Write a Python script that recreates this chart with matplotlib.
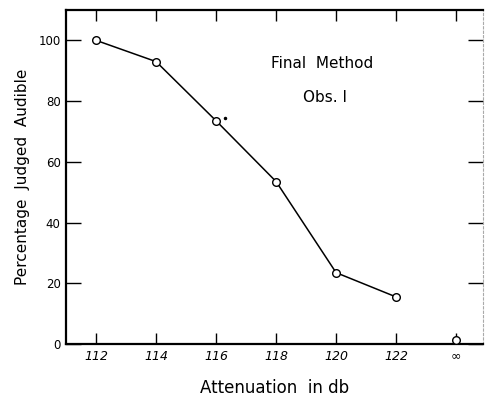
import numpy as np
import matplotlib.pyplot as plt

# attenuation (db) and percentage judged audible
attenuation = [112, 114, 116, 118, 120, 122]
pct_audible = [100, 93, 73.5, 53.5, 23.5, 15.5]
inf_pos = 124            # the "infinity" column sits after 122
inf_value = 1.3

x_ticks = [112, 114, 116, 118, 120, 122, 124]
x_labels = ['112', '114', '116', '118', '120', '122', '∞']
y_ticks = [0, 20, 40, 60, 80, 100]
y_labels = ['0', '20', '40', '60', '80', '100']

fig = plt.figure(figsize=(4.86, 4.0), dpi=100)
ax = fig.add_axes([0.136, 0.14, 0.858, 0.835])

ax.plot(attenuation, pct_audible, color='black', lw=1.1, marker='o',
        ms=5.5, mfc='white', mec='black', mew=1.0, zorder=3)
ax.plot([inf_pos], [inf_value], linestyle='none', marker='o',
        ms=5.5, mfc='white', mec='black', mew=1.0, zorder=3, clip_on=False)
# little stray dot next to the 116 point
ax.plot([116.3], [74.5], marker='.', color='black', ms=3)

ax.set_xlim(111, 124.9)
ax.set_ylim(0, 110)

ax.set_xticks(x_ticks)
ax.set_xticklabels(x_labels, fontsize=9, style='italic')
ax.set_yticks(y_ticks)
ax.set_yticklabels(y_labels, fontsize=8.5)

ax.tick_params(axis='x', direction='in', length=8, width=1.0,
               top=True, bottom=True, pad=4)
ax.tick_params(axis='y', direction='in', length=11, width=1.0,
               left=True, right=True, pad=4)

for s in ['left', 'bottom', 'top']:
    ax.spines[s].set_linewidth(1.6)
ax.spines['right'].set_linewidth(0.8)
ax.spines['right'].set_color('#aaaaaa')
ax.spines['right'].set_linestyle((0, (2, 2)))

ax.set_xlabel('Attenuation  in db', fontsize=12, labelpad=12)
ax.set_ylabel('Percentage  Judged  Audible', fontsize=11, labelpad=6)

ax.text(0.615, 0.825, 'Final  Method', transform=ax.transAxes,
        ha='center', fontsize=11)
ax.text(0.62, 0.725, 'Obs. I', transform=ax.transAxes,
        ha='center', fontsize=11)

fig.savefig('out.png', dpi=100)
